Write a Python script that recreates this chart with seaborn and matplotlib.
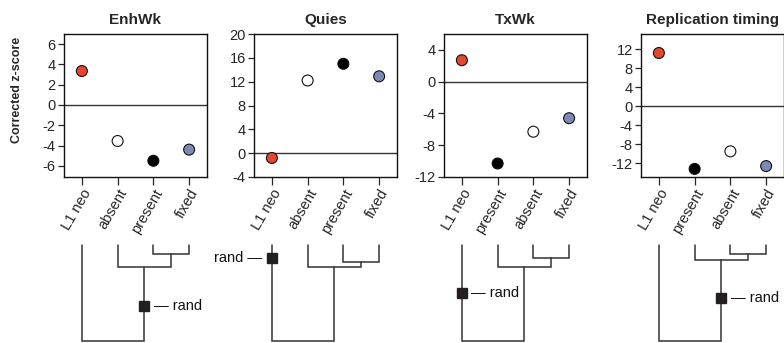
import matplotlib
matplotlib.use("Agg")
import matplotlib.pyplot as plt
import seaborn as sns
import pandas as pd
import numpy as np

# ---- data -------------------------------------------------------------
panel_titles = ["EnhWk", "Quies", "TxWk", "Replication timing"]

group_orders = [
    ["L1 neo", "absent", "present", "fixed"],
    ["L1 neo", "absent", "present", "fixed"],
    ["L1 neo", "present", "absent", "fixed"],
    ["L1 neo", "present", "absent", "fixed"],
]

enhwk_z = [3.35, -3.55, -5.5, -4.4]
quies_z = [-0.8, 12.2, 15.0, 12.9]
txwk_z = [2.7, -10.3, -6.3, -4.6]
reptime_z = [11.2, -13.2, -9.5, -12.6]
panel_values = [enhwk_z, quies_z, txwk_z, reptime_z]

y_limits = [(-7.1, 7.0), (-4, 20), (-12, 6), (-14.9, 15.2)]
y_ticks = [list(range(-6, 7, 2)), list(range(-4, 21, 4)),
           list(range(-12, 5, 4)), list(range(-12, 13, 4))]

# dendrogram: leaves (pos 0..3) joined as (0, (1, (2, 3))); heights in [0, 1]
pair_height = [0.906, 0.823, 0.865, 0.906]    # join of leaves 2 and 3
clade_height = [0.771, 0.771, 0.771, 0.844]   # join of leaf 1 with (2, 3)
rand_branch = ["clade", "leaf0", "leaf0", "clade"]
rand_height = [0.368, 0.865, 0.503, 0.448]
rand_side = ["right", "left", "right", "right"]

palette = {"L1 neo": "#E4472F", "absent": "#FFFFFF",
           "present": "#000000", "fixed": "#7C89B4"}

# ---- style ------------------------------------------------------------
sns.set_style("ticks")
plt.rcParams["font.family"] = ["Liberation Sans", "DejaVu Sans"]
plt.rcParams["axes.linewidth"] = 1.0
plt.rcParams["axes.edgecolor"] = "#111111"

W, H = 784, 343
fig = plt.figure(figsize=(W / 100, H / 100), dpi=100)


def box(left, top, right, bottom):
    return [left / W, 1 - bottom / H, (right - left) / W, (bottom - top) / H]


panel_left = [64, 254, 444, 641]
panel_width = 143
line_col = "#333333"

for i, title in enumerate(panel_titles):
    left = panel_left[i]
    ax = fig.add_axes(box(left, 34, left + panel_width, 177))
    df = pd.DataFrame({"group": group_orders[i], "z": panel_values[i]})
    ax.axhline(0, color=line_col, lw=1.0, zorder=1)
    sns.scatterplot(data=df, x="group", y="z", hue="group", palette=palette,
                    s=62, edgecolor="#111111", linewidth=0.8, legend=False,
                    ax=ax, zorder=3)
    ax.set_xlim(-0.5, 3.5)
    ax.set_ylim(*y_limits[i])
    ax.set_yticks(y_ticks[i])
    ax.set_yticklabels([str(t) for t in y_ticks[i]], fontsize=10.5)
    ax.set_xticks(range(4))
    ax.set_xticklabels(group_orders[i], fontsize=10.5, rotation=60,
                       ha="right", rotation_mode="anchor")
    ax.tick_params(axis="y", length=4.5, width=0.9, pad=1.5)
    ax.tick_params(axis="x", length=5.5, width=0.9, pad=1.5)
    ax.set_xlabel("")
    ax.set_ylabel("")
    ax.set_title(title, fontsize=11, fontweight="bold", pad=7)

    # dendrogram below the panel
    dax = fig.add_axes(box(left, 245, left + panel_width, 341))
    dax.set_xlim(-0.5, 3.5)
    dax.set_ylim(0, 1)
    dax.axis("off")
    hp, hc = pair_height[i], clade_height[i]
    x_pair = 2.5
    x_clade = (1 + x_pair) / 2
    links = [
        ([2, 2, 3, 3], [1, hp, hp, 1]),
        ([1, 1, x_pair, x_pair], [1, hc, hc, hp]),
        ([0, 0, x_clade, x_clade], [1, 0, 0, hc]),
    ]
    for xs, ys in links:
        dax.plot(xs, ys, color=line_col, lw=1.1, clip_on=False,
                 solid_joinstyle="miter")
    rx = 0 if rand_branch[i] == "leaf0" else x_clade
    ry = rand_height[i]
    dax.plot([rx], [ry], marker="s", markersize=7.5, color="#231F20",
             clip_on=False, zorder=4)
    if rand_side[i] == "right":
        dax.annotate("— rand", (rx, ry), xytext=(6.8, 0),
                     textcoords="offset points", ha="left", va="center",
                     fontsize=10.5, color="#111111")
    else:
        dax.annotate("rand —", (rx, ry), xytext=(-6.8, 0),
                     textcoords="offset points", ha="right", va="center",
                     fontsize=10.5, color="#111111")

fig.text(17 / W, 1 - 90 / H, "Corrected z-score", rotation=90,
         ha="center", va="center", fontsize=9, fontweight="bold")

fig.savefig("out.png", dpi=100)
